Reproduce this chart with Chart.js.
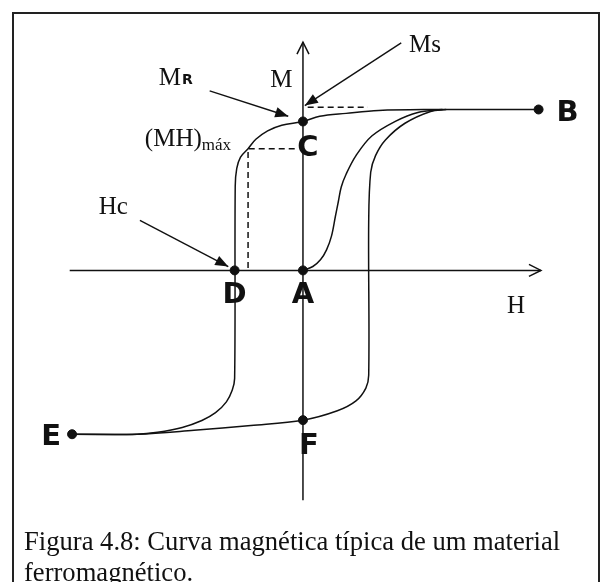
<!DOCTYPE html>
<html>
<head>
<meta charset="utf-8">
<script src="https://cdn.jsdelivr.net/npm/chart.js@4/dist/chart.umd.min.js"></script>
<style>
  html, body { margin: 0; padding: 0; background: #fff; }
  #wrap { position: relative; width: 602px; height: 582px; overflow: hidden; background: #fff; }
  #frame { position: absolute; left: 12px; top: 12px; width: 584px; height: 620px; border: 2px solid #222; }
  #plot { position: absolute; left: 0; top: 0; }
  #caption {
    position: absolute; left: 24px; top: 526px;
    font: 26.6px "Liberation Serif", "Times New Roman", serif;
    line-height: 31px; color: #111; white-space: nowrap;
  }
</style>
</head>
<body>
<div id="wrap">
  <div id="frame"></div>
  <canvas id="plot" width="602" height="582"></canvas>
  <div id="caption">Figura 4.8: Curva magnética típica de um material<br>ferromagnético.</div>
</div>
<script>
// H (field) and M (magnetisation) in normalised units, saturation = 1
const hAxis = [[-0.99, 0], [1.01, 0]]
const mAxis = [[0, -1.42], [0, 1.41]]

// first magnetisation, from the origin up to saturation
const initialCurve = [
  [0, 0], [0.042, 0.024], [0.075, 0.067], [0.1, 0.127], [0.121, 0.212],
  [0.1375, 0.333], [0.15, 0.424], [0.1625, 0.515], [0.183, 0.594],
  [0.225, 0.709], [0.292, 0.83], [0.392, 0.921], [0.4875, 0.976], [0.592, 0.994]
]

// B -> C -> D -> E
const descendingBranch = [
  [1.0, 0.994], [0.7375, 0.994], [0.571, 0.994], [0.321, 0.988], [0.183, 0.97],
  [0.071, 0.952], [0, 0.92], [-0.09, 0.897], [-0.15, 0.862], [-0.2, 0.81],
  [-0.233, 0.752], [-0.265, 0.7], [-0.281, 0.63], [-0.2875, 0.52],
  [-0.29, -0.667], [-0.3, -0.739], [-0.325, -0.812], [-0.371, -0.879],
  [-0.429, -0.927], [-0.5125, -0.97], [-0.617, -1.0], [-0.704, -1.012], [-0.98, -1.012]
]

// E -> F -> back to saturation
const ascendingBranch = [
  [-0.98, -1.012], [-0.704, -1.012], [-0.4625, -0.988], [-0.221, -0.958],
  [0, -0.925], [0.146, -0.867], [0.225, -0.806], [0.267, -0.727], [0.279, -0.648],
  [0.279, 0.303], [0.2875, 0.606], [0.308, 0.709], [0.35, 0.806], [0.433, 0.909],
  [0.5417, 0.982], [0.608, 0.994]
]

const mhMaxGuide = [[-0.035, 0.752], [-0.233, 0.752], [-0.233, 0]]
const msGuide = [[0.02, 1.008], [0.275, 1.008]]

const pointNames = ['A', 'B', 'C', 'D', 'E', 'F']
const pointH = [0, 1.0, 0, -0.29, -0.98, 0]
const pointM = [0, 0.994, 0.92, 0, -1.012, -0.925]

// leader arrows: [from, to]
const msPointer = [[0.417, 1.406], [0.008, 1.018]]
const mrPointer = [[-0.396, 1.109], [-0.0625, 0.952]]
const hcPointer = [[-0.692, 0.309], [-0.317, 0.024]]

const INK = '#111'
const toXY = arr => arr.map(([x, y]) => ({ x, y }))

const line = (data, extra = {}) => Object.assign({
  data: toXY(data),
  showLine: true,
  borderColor: INK,
  borderWidth: 1.5,
  pointRadius: 0,
  tension: 0,
  fill: false
}, extra)

const labelOffsets = {
  A: [0, 25], B: [29, 4], C: [5, 27], D: [0, 25], E: [-21, 3], F: [6, 26]
}

const annotations = {
  id: 'annotations',
  afterDatasetsDraw (chart) {
    const { ctx, scales: { x, y } } = chart
    const px = ([h, m]) => [x.getPixelForValue(h), y.getPixelForValue(m)]

    ctx.save()
    ctx.strokeStyle = INK
    ctx.fillStyle = INK
    ctx.lineWidth = 1.5

    // open arrow tips on the axes
    const openTip = (tip, horizontal) => {
      const [tx, ty] = px(tip)
      ctx.beginPath()
      if (horizontal) {
        ctx.moveTo(tx - 12, ty - 6); ctx.lineTo(tx, ty); ctx.lineTo(tx - 12, ty + 6)
      } else {
        ctx.moveTo(tx - 6, ty + 12); ctx.lineTo(tx, ty); ctx.lineTo(tx + 6, ty + 12)
      }
      ctx.stroke()
    }
    openTip(hAxis[1], true)
    openTip(mAxis[1], false)

    // filled heads on the leader arrows
    ;[msPointer, mrPointer, hcPointer].forEach(([from, to]) => {
      const [fx, fy] = px(from)
      const [tx, ty] = px(to)
      const a = Math.atan2(ty - fy, tx - fx)
      const len = 14
      const half = 0.38
      ctx.beginPath()
      ctx.moveTo(tx, ty)
      ctx.lineTo(tx - len * Math.cos(a - half), ty - len * Math.sin(a - half))
      ctx.lineTo(tx - len * Math.cos(a + half), ty - len * Math.sin(a + half))
      ctx.closePath()
      ctx.fill()
    })

    // point letters
    ctx.font = 'bold 29px "DejaVu Sans", Verdana, sans-serif'
    ctx.textAlign = 'center'
    ctx.textBaseline = 'middle'
    pointNames.forEach((name, i) => {
      const [cx, cy] = px([pointH[i], pointM[i]])
      const [ox, oy] = labelOffsets[name]
      ctx.fillText(name, cx + ox, cy + oy)
    })

    // serif annotations
    const serif = size => `${size}px "Liberation Serif", "Times New Roman", serif`
    ctx.font = serif(25)
    ctx.textAlign = 'center'
    let p = px([-0.092, 1.176]); ctx.fillText('M', p[0], p[1])
    p = px([0.904, -0.224]); ctx.fillText('H', p[0], p[1])

    ctx.textAlign = 'left'
    p = px([0.45, 1.388]); ctx.fillText('Ms', p[0], p[1])
    p = px([-0.867, 0.388]); ctx.fillText('Hc', p[0], p[1])

    p = px([-0.612, 1.188]); ctx.fillText('M', p[0], p[1])
    const mW = ctx.measureText('M').width
    ctx.font = 'bold 14px "DejaVu Sans", Verdana, sans-serif'
    ctx.fillText('R', p[0] + mW + 1, p[1] + 2)

    ctx.font = serif(25)
    p = px([-0.671, 0.806]); ctx.fillText('(MH)', p[0], p[1])
    const pw = ctx.measureText('(MH)').width
    ctx.font = serif(17)
    ctx.fillText('máx', p[0] + pw, p[1] + 6)

    ctx.restore()
  }
}

new Chart(document.getElementById('plot'), {
  type: 'scatter',
  data: {
    datasets: [
      line(hAxis),
      line(mAxis),
      line(initialCurve, { tension: 0.35 }),
      line(descendingBranch, { tension: 0.35 }),
      line(ascendingBranch, { tension: 0.35 }),
      line(mhMaxGuide, { borderDash: [6, 4] }),
      line(msGuide, { borderDash: [6, 4] }),
      line(msPointer, { borderWidth: 1.4 }),
      line(mrPointer, { borderWidth: 1.4 }),
      line(hcPointer, { borderWidth: 1.4 }),
      {
        data: pointH.map((h, i) => ({ x: h, y: pointM[i] })),
        showLine: false,
        pointRadius: 4.5,
        pointBackgroundColor: INK,
        pointBorderColor: INK
      }
    ]
  },
  options: {
    responsive: false,
    animation: false,
    events: [],
    layout: { padding: 0 },
    plugins: { legend: { display: false }, tooltip: { enabled: false } },
    scales: {
      x: { type: 'linear', display: false, min: -1.2625, max: 1.24583 },
      y: { type: 'linear', display: false, min: -1.89091, max: 1.63636 }
    }
  },
  plugins: [annotations]
})
</script>
</body>
</html>
